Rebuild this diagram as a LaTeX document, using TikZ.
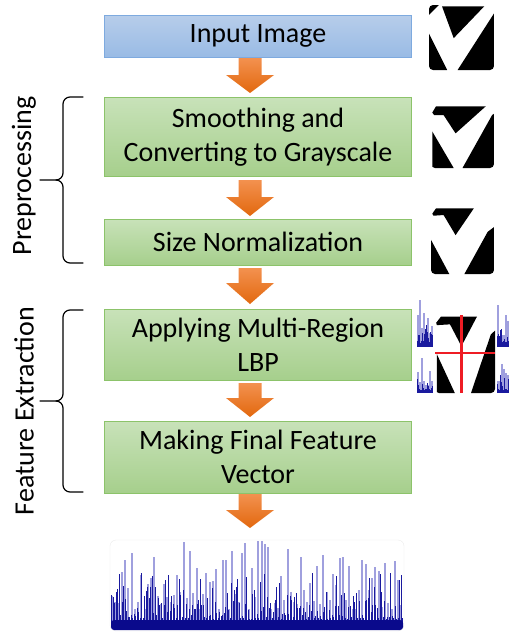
\documentclass[tikz,border=0pt]{standalone}
\usepackage{fontspec}
\setmainfont{Carlito}
\definecolor{bluetop}{HTML}{B7CDEA}
\definecolor{bluebot}{HTML}{99BBE5}
\definecolor{blueedge}{HTML}{7EAADF}
\definecolor{greentop}{HTML}{C8E2B9}
\definecolor{greenbot}{HTML}{A6CF8C}
\definecolor{greenedge}{HTML}{8CC36A}
\definecolor{orangetop}{HTML}{F3914F}
\definecolor{orangebot}{HTML}{E2680E}
\definecolor{histlight}{HTML}{A0A0DE}
\definecolor{histdark}{HTML}{1A1A9E}
\definecolor{histbase}{HTML}{0A0A8C}
\definecolor{crossred}{HTML}{EE1C24}
\newcommand\orarrow[4]{%
  \shade[top color=orangetop,bottom color=orangebot]
    (#1-11.5,#2) -- (#1+11.5,#2) -- (#1+11.5,#3) -- (#1+24,#3) -- (#1,#4)
    -- (#1-24,#3) -- (#1-11.5,#3) -- cycle;}
\newcommand\mybrace[3]{%
  \draw[bracestyle] (83,#1) -- (70,#1) to[out=180,in=90] (63,#1+7)
    -- (63,#3-7) to[out=-90,in=0] (56,#3) -- (40,#3);
  \draw[bracestyle] (83,#2) -- (70,#2) to[out=180,in=-90] (63,#2-7)
    -- (63,#3+7) to[out=90,in=0] (56,#3);}
% light spikes: x0, number, y bottom, max height, pitch, width
\newcommand\histlight[6]{%
  \foreach \i in {1,...,#2}{%
    \pgfmathsetmacro\hl{#4*(0.2+0.8*rnd^1.4)}%
    \fill[histlight] ({#1+(\i-1)*#5},#3) rectangle ++(#6,-\hl);}}
% dark bars: x0, number, y bottom, max height, pitch, width
\newcommand\histdark[6]{%
  \foreach \i in {1,...,#2}{%
    \pgfmathsetmacro\hd{#4*(0.1+0.55*rnd^2.2)}%
    \fill[histdark] ({#1+(\i-1)*#5},#3) rectangle ++(#6,-\hd);}}
\begin{document}
\begin{tikzpicture}[x=1pt,y=-1pt,
  box/.style={line width=0.8pt, minimum width=307pt, inner sep=0pt,
    align=center, font=\fontsize{28}{34}\selectfont},
  bluebox/.style={box, top color=bluetop, bottom color=bluebot, draw=blueedge},
  greenbox/.style={box, top color=greentop, bottom color=greenbot, draw=greenedge},
  sidelabel/.style={rotate=90, inner sep=0pt, font=\fontsize{28}{34}\selectfont},
  bracestyle/.style={line width=1.2pt, line join=round, line cap=round}]
\useasboundingbox (0,0) rectangle (509,632);
\pgfmathsetseed{11}

% boxes
\node[bluebox, minimum height=42pt] (b1) at (258,36) {Input Image};
\node[greenbox, minimum height=79pt] (b2) at (258,137) {Smoothing and\\Converting to Grayscale};
\node[greenbox, minimum height=46pt] (b3) at (258,242) {Size Normalization};
\node[greenbox, minimum height=71pt] (b4) at (258,344.5) {Applying Multi-Region\\LBP};
\node[greenbox, minimum height=72pt] (b5) at (258,457) {Making Final Feature\\Vector};

% block arrows
\orarrow{250}{58}{75}{93}
\orarrow{250}{180}{197}{216}
\orarrow{250}{268}{283}{304}
\orarrow{250}{383}{398}{417}
\orarrow{250}{494}{510}{528}

% braces and labels
\mybrace{97}{263}{180}
\mybrace{310}{492}{401}
\node[sidelabel] (lp) at (24,176) {Preprocessing};
\node[sidelabel] (lf) at (24,411) {Feature Extraction};

% image 1
\begin{scope}[shift={(429,5)}, x=65pt, y=-65pt]
  \clip[rounded corners=4pt] (0,0) rectangle (1,1);
  \fill (0,0) -- (0.15,0) -- (0,0.15) -- cycle;
  \fill (0.2,0.02) -- (0.85,0.02) -- (0.38,0.51) -- cycle;
  \fill (0,0.44) -- (0,1) -- (0.28,1) -- cycle;
  \fill (1,0.13) -- (1,1) -- (0.44,1) -- cycle;
\end{scope}
% image 2
\begin{scope}[shift={(431,105)}, x=63pt, y=-63pt]
  \clip[rounded corners=4pt] (0,0) rectangle (1,1);
  \fill (0.02,0.12) -- (0.08,0.02) -- (0.87,0.02) -- (0.39,0.45) -- (0.2,0.16) -- (0.05,0.16) -- cycle;
  \fill (0.02,0.42) -- (0.02,1) -- (0.36,1) -- cycle;
  \fill (0.97,0.16) -- (1,0.14) -- (1,1) -- (0.5,1) -- cycle;
\end{scope}
% image 3
\begin{scope}[shift={(431,207)}, x=63pt, y=-67pt]
  \clip[rounded corners=4pt] (0,0) rectangle (1,1);
  \fill (0.02,0.1) -- (0.08,0.02) -- (0.68,0.02) -- (0.39,0.42) -- (0.2,0.12) -- (0.04,0.13) -- cycle;
  \fill (0,0.49) -- (0,1) -- (0.29,1) -- cycle;
  \fill (0.9,0.37) -- (1,0.3) -- (1,1) -- (0.53,1) -- cycle;
\end{scope}
% image 4 with cross
\begin{scope}[shift={(435,315)}, x=60pt, y=-78pt]
  \begin{scope}
    \clip[rounded corners=4pt] (0,0) rectangle (1,1);
    \fill (0.02,0.1) -- (0.1,0.02) -- (0.7,0.02) -- (0.44,0.4) -- (0.25,0.12) -- (0.03,0.13) -- cycle;
    \fill (0.03,0.5) -- (0.03,1) -- (0.33,1) -- cycle;
    \fill (0.93,0.25) -- (1,0.2) -- (1,1) -- (0.6,1) -- cycle;
  \end{scope}
  \draw[crossred, line width=2.4pt] (0.44,0) -- (0.44,1);
  \draw[crossred, line width=2.4pt] (0,0.49) -- (1,0.49);
\end{scope}
% small histograms
\histlight{417}{8}{347}{50}{2}{1.5}
\histdark{417}{16}{347}{40}{1}{1}
\histlight{417}{8}{393}{38}{2}{1.5}
\histdark{417}{16}{393}{32}{1}{1}
\histlight{497}{6}{347}{48}{2}{1.5}
\histdark{497}{12}{347}{40}{1}{1}
\histlight{497}{6}{393}{38}{2}{1.5}
\histdark{497}{12}{393}{32}{1}{1}

% final feature vector histogram
\draw[black!8, rounded corners=6pt] (110,540) rectangle (404,631);
\histlight{111}{90}{627}{88}{3.25}{2}
\histdark{111}{195}{627}{85}{1.5}{1.2}
\fill[histbase, rounded corners=3pt] (111,620) rectangle (403,630);
\end{tikzpicture}
\end{document}
